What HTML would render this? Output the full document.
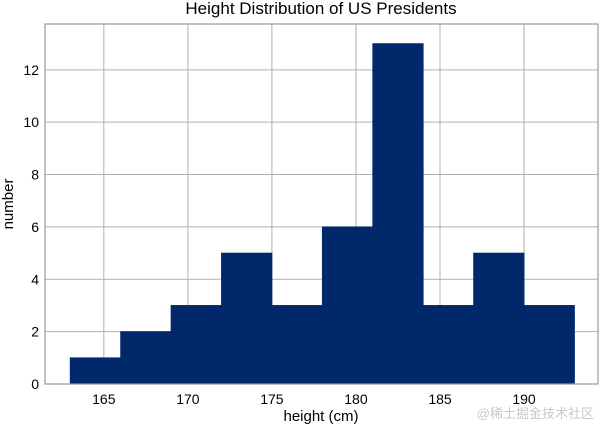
<!DOCTYPE html>
<html><head><meta charset="utf-8"><style>
body{margin:0;background:#fff;}
svg text{font-family:"Liberation Sans",Arial,sans-serif;fill:#000;}
</style></head><body>
<svg width="600" height="427" xmlns="http://www.w3.org/2000/svg">
<g id="grid"></g>
<g id="bars"></g>
<rect x="45" y="24" width="553" height="360" fill="none" stroke="#999" stroke-width="1.2"/>
<g id="ticks"></g>
<text x="321" y="14" font-size="17" text-anchor="middle">Height Distribution of US Presidents</text>
<text x="321" y="421" font-size="15" text-anchor="middle">height (cm)</text>
<text transform="translate(13,204) rotate(-90)" font-size="15" text-anchor="middle">number</text>
<text x="594" y="418" font-size="13" text-anchor="end" style="fill:#c8c8c8" font-family="Liberation Sans,Noto Sans CJK SC,sans-serif">@稀土掘金技术社区</text>
</svg>
<script>
const binEdges=[163,166,169,172,175,178,181,184,187,190,193];
const counts=[1,2,3,5,3,6,13,3,5,3];
const xTicks=[165,170,175,180,185,190];
const yTicks=[0,2,4,6,8,10,12];
const L=45,R=598,T=24,B=384;
const xMin=161.5,xMax=194.4,yMin=0,yMax=13.75;
const xs=v=>L+(v-xMin)/(xMax-xMin)*(R-L);
const ys=v=>B-(v-yMin)/(yMax-yMin)*(B-T);
const NS="http://www.w3.org/2000/svg";
const grid=document.getElementById('grid'),bars=document.getElementById('bars'),ticks=document.getElementById('ticks');
function mk(tag,attrs,parent){const e=document.createElementNS(NS,tag);for(const k in attrs)e.setAttribute(k,attrs[k]);parent.appendChild(e);return e;}
xTicks.forEach(t=>{
  const l=mk('line',{x1:xs(t),x2:xs(t),y1:T,y2:B,stroke:'#b0b0b0','stroke-width':1},grid);
  
  
  const tx=mk('text',{x:xs(t),y:B+20,'font-size':14,'text-anchor':'middle'},ticks);
  tx.textContent=t;
  
  
});
yTicks.forEach(t=>{
  const l=mk('line',{x1:L,x2:R,y1:ys(t),y2:ys(t),stroke:'#b0b0b0','stroke-width':1},grid);
  
  
  const tx=mk('text',{x:L-6,y:ys(t)+5,'font-size':14,'text-anchor':'end'},ticks);
  tx.textContent=t;
  
  
});
counts.forEach((c,i)=>{
  const x0=xs(binEdges[i]),x1=xs(binEdges[i+1]);
  const r=mk('rect',{x:x0,y:ys(c),width:x1-x0,height:ys(0)-ys(c),fill:'#01286b',stroke:'#01286b','stroke-width':0.8},bars);
  
  
});
</script>
</body></html>
